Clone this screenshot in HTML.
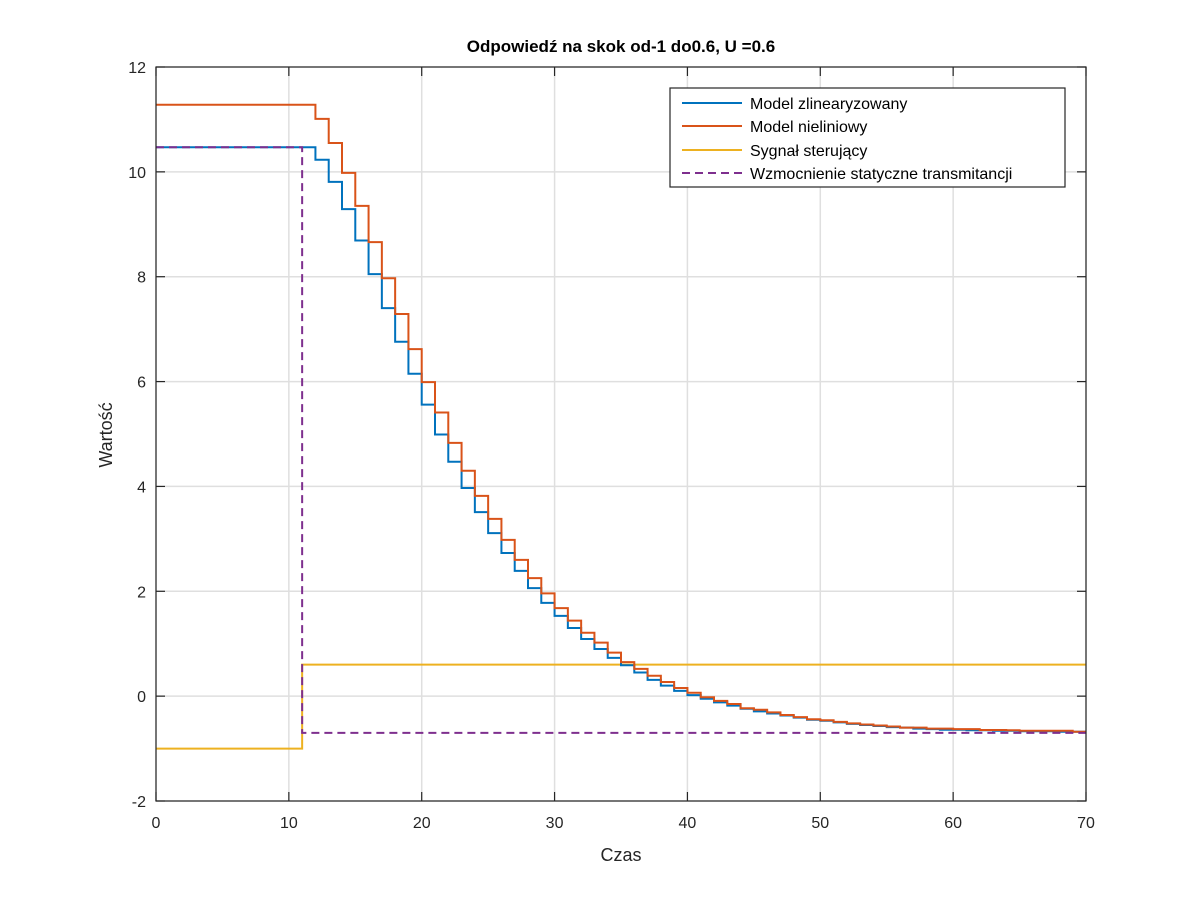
<!DOCTYPE html>
<html><head><meta charset="utf-8"><style>
body{margin:0;background:#fff}
svg text{font-family:"Liberation Sans",sans-serif;fill:#262626}
</style></head><body>
<svg id="chart" width="1200" height="900" xmlns="http://www.w3.org/2000/svg">
<rect x="0" y="0" width="1200" height="900" fill="#fff"/>
<g id="grid"></g>
<g id="series"></g>
<rect x="156" y="67" width="930" height="734" fill="none" stroke="#262626" stroke-width="1.2"/>
<g id="ticks"></g>
<text x="621" y="52" text-anchor="middle" font-size="17" font-weight="bold" style="fill:#000">Odpowiedź na skok od-1 do0.6, U =0.6</text>
<text x="621" y="861" text-anchor="middle" font-size="18">Czas</text>
<text x="112" y="435" text-anchor="middle" font-size="18" transform="rotate(-90 112 435)">Wartość</text>
<g>
<rect x="670" y="88" width="395" height="99" fill="#fff" stroke="#262626" stroke-width="1.2"/>
<line x1="682" y1="103" x2="742" y2="103" stroke="#0072BD" stroke-width="2"/>
<text x="750" y="109" font-size="16" style="fill:#000">Model zlinearyzowany</text>
<line x1="682" y1="126" x2="742" y2="126" stroke="#D95319" stroke-width="2"/>
<text x="750" y="132" font-size="16" style="fill:#000">Model nieliniowy</text>
<line x1="682" y1="150" x2="742" y2="150" stroke="#EDB120" stroke-width="2"/>
<text x="750" y="156" font-size="16" style="fill:#000">Sygnał sterujący</text>
<line x1="682" y1="173" x2="742" y2="173" stroke="#7E2F8E" stroke-width="2" stroke-dasharray="8,5"/>
<text x="750" y="179" font-size="16" style="fill:#000">Wzmocnienie statyczne transmitancji</text>
</g>
</svg>
<script>
const xTicks=[0,10,20,30,40,50,60,70];
const yTicks=[-2,0,2,4,6,8,10,12];
const stepTimes=[0,12,13,14,15,16,17,18,19,20,21,22,23,24,25,26,27,28,29,30,31,32,33,34,35,36,37,38,39,40,41,42,43,44,45,46,47,48,49,50,51,52,53,54,55,56,57,58,59,60,61,62,63,64,65,66,67,68,69];
const linearVals=[10.47,10.23,9.81,9.29,8.69,8.05,7.40,6.76,6.15,5.56,4.99,4.47,3.97,3.51,3.11,2.73,2.39,2.06,1.78,1.53,1.30,1.09,0.90,0.73,0.59,0.45,0.31,0.20,0.10,0.02,-0.05,-0.12,-0.18,-0.24,-0.29,-0.33,-0.37,-0.41,-0.45,-0.47,-0.50,-0.53,-0.55,-0.57,-0.59,-0.60,-0.62,-0.63,-0.64,-0.64,-0.65,-0.65,-0.66,-0.66,-0.67,-0.67,-0.67,-0.68,-0.68];
const nonlinearVals=[11.28,11.01,10.55,9.98,9.35,8.66,7.97,7.29,6.62,5.99,5.41,4.83,4.30,3.82,3.38,2.98,2.60,2.25,1.96,1.68,1.44,1.21,1.02,0.83,0.65,0.52,0.39,0.27,0.155,0.065,-0.02,-0.09,-0.15,-0.23,-0.26,-0.31,-0.36,-0.40,-0.44,-0.46,-0.49,-0.52,-0.54,-0.56,-0.58,-0.60,-0.60,-0.62,-0.62,-0.63,-0.63,-0.645,-0.645,-0.65,-0.66,-0.66,-0.66,-0.66,-0.68];
const controlTimes=[0,11];
const controlVals=[-1,0.6];
const gainTimes=[0,11];
const gainVals=[10.47,-0.7];
const xMin=0,xMax=70,yMin=-2,yMax=12;
const X=v=>156+(v-xMin)/(xMax-xMin)*930;
const Y=v=>801-(v-yMin)/(yMax-yMin)*734;
const NS='http://www.w3.org/2000/svg';
function mk(tag,attrs,parent){const e=document.createElementNS(NS,tag);for(const k in attrs)e.setAttribute(k,attrs[k]);parent.appendChild(e);return e;}
const grid=document.getElementById('grid'),ticks=document.getElementById('ticks'),series=document.getElementById('series');
xTicks.forEach(t=>{
 const g=mk('line',{x1:X(t),x2:X(t),y1:67,y2:801,stroke:'#dfdfdf','stroke-width':1.5},grid);
 
 
 const a=mk('line',{x1:X(t),x2:X(t),y1:801,y2:792,stroke:'#262626','stroke-width':1.2},ticks);
 
 
 const b=mk('line',{x1:X(t),x2:X(t),y1:67,y2:76,stroke:'#262626','stroke-width':1.2},ticks);
 
 
 const l=mk('text',{x:X(t),y:828,'text-anchor':'middle','font-size':16},ticks);l.textContent=t;
 
 
});
yTicks.forEach(t=>{
 const g=mk('line',{x1:156,x2:1086,y1:Y(t),y2:Y(t),stroke:'#dfdfdf','stroke-width':1.5},grid);
 
 
 const a=mk('line',{x1:156,x2:165,y1:Y(t),y2:Y(t),stroke:'#262626','stroke-width':1.2},ticks);
 
 
 const b=mk('line',{x1:1077,x2:1086,y1:Y(t),y2:Y(t),stroke:'#262626','stroke-width':1.2},ticks);
 
 
 const l=mk('text',{x:146,y:Y(t)+6,'text-anchor':'end','font-size':16},ticks);l.textContent=t;
 
 
});
function stairs(times,vals){
 let d='M'+X(times[0])+','+Y(vals[0]);
 for(let i=1;i<times.length;i++){d+=' L'+X(times[i])+','+Y(vals[i-1])+' L'+X(times[i])+','+Y(vals[i]);}
 d+=' L'+X(xMax)+','+Y(vals[vals.length-1]);
 return d;
}
const pc=mk('path',{d:stairs(controlTimes,controlVals),fill:'none',stroke:'#EDB120','stroke-width':2},series);


const pl=mk('path',{d:stairs(stepTimes,linearVals),fill:'none',stroke:'#0072BD','stroke-width':2},series);


const pn=mk('path',{d:stairs(stepTimes,nonlinearVals),fill:'none',stroke:'#D95319','stroke-width':2},series);


const pg=mk('path',{d:stairs(gainTimes,gainVals),fill:'none',stroke:'#7E2F8E','stroke-width':2,'stroke-dasharray':'8,5'},series);


</script>
</body></html>
